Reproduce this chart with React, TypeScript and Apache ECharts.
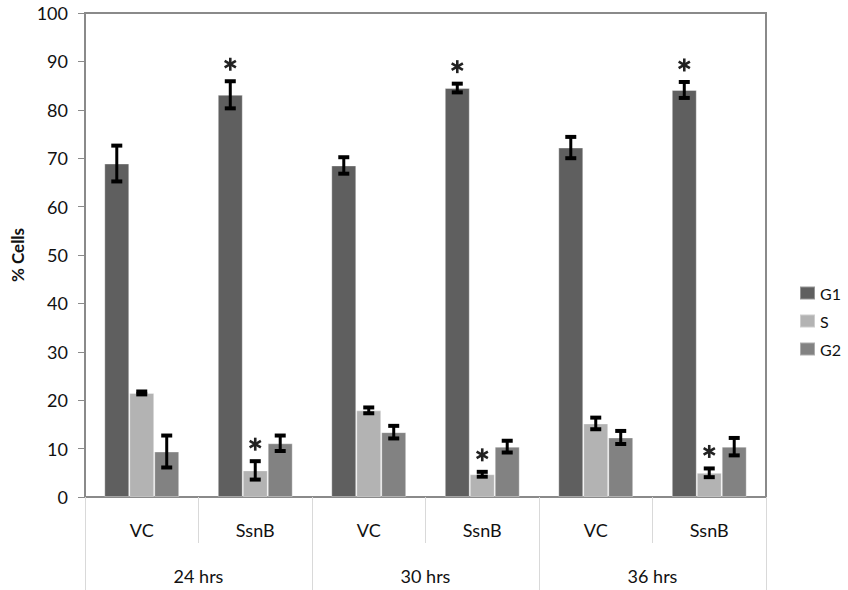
import React, { useEffect, useRef } from "react";
import * as echarts from "echarts";

const categories = ["VC", "SsnB", "VC", "SsnB", "VC", "SsnB"];
const timeGroups = ["24 hrs", "30 hrs", "36 hrs"];
const seriesNames = ["G1", "S", "G2"];
const g1Values = [68.9, 83.1, 68.5, 84.5, 72.2, 84.1];
const sValues = [21.5, 5.5, 17.9, 4.7, 15.2, 5.0];
const g2Values = [9.4, 11.1, 13.4, 10.4, 12.3, 10.4];
const g1Errors = [3.7, 2.8, 1.7, 0.9, 2.2, 1.65];
const sErrors = [0.3, 1.9, 0.6, 0.5, 1.2, 0.9];
const g2Errors = [3.3, 1.6, 1.3, 1.2, 1.35, 1.8];
const g1Stars = [false, true, false, true, false, true];
const sStars = [false, true, false, true, false, true];
const g2Stars = [false, false, false, false, false, false];
const yTicks = { min: 0, max: 100, interval: 10 };

const colors = ["#5f5f5f", "#b3b3b3", "#828282"];
const FONT = "Lato";
const CAT_GAP = 0.34;

export default function App() {
  const ref = useRef<HTMLDivElement>(null);
  useEffect(() => {
    if (!ref.current) return;
    const chart = echarts.init(ref.current, undefined, { renderer: "svg" });
    const values = [g1Values, sValues, g2Values];
    const errors = [g1Errors, sErrors, g2Errors];
    const stars = [g1Stars, sStars, g2Stars];
    const errData: any[] = [];
    for (let k = 0; k < 3; k++) {
      for (let i = 0; i < categories.length; i++) {
        errData.push([i, values[k][i], errors[k][i], k, stars[k][i] ? 1 : 0]);
      }
    }
    const option: any = {
      animation: false,
      grid: {
        left: 85,
        right: 82,
        top: 13,
        bottom: 93,
        show: true,
        borderColor: "#8a8a8a",
        borderWidth: 2,
      },
      legend: {
        orient: "vertical",
        left: 794,
        top: 280,
        itemWidth: 15,
        itemHeight: 13,
        itemGap: 12,
        data: seriesNames,
        textStyle: { fontFamily: FONT, fontSize: 16, color: "#111" },
        icon: "rect",
      },
      xAxis: [
        {
          type: "category",
          data: categories,
          position: "bottom",
          axisLine: { show: true, lineStyle: { color: "#8a8a8a", width: 2 } },
          axisTick: { show: true, length: 46, interval: 0, lineStyle: { color: "#d9d9d9" } },
          axisLabel: { margin: 24, interval: 0, fontFamily: FONT, fontSize: 18, color: "#111" },
        },
        {
          type: "category",
          data: timeGroups,
          position: "bottom",
          axisLine: { show: false },
          axisTick: { show: true, length: 93, interval: 0, lineStyle: { color: "#d9d9d9" } },
          axisLabel: { margin: 70, interval: 0, fontFamily: FONT, fontSize: 18, color: "#111" },
        },
      ],
      yAxis: {
        type: "value",
        min: yTicks.min,
        max: yTicks.max,
        interval: yTicks.interval,
        name: "% Cells",
        nameLocation: "middle",
        nameGap: 58,
        nameTextStyle: { fontFamily: FONT, fontSize: 17, fontWeight: "bold", color: "#111" },
        axisLine: { show: true, lineStyle: { color: "#8a8a8a", width: 2 } },
        axisTick: { show: true, length: 7, lineStyle: { color: "#8a8a8a" } },
        splitLine: { show: false },
        axisLabel: { margin: 17, fontFamily: FONT, fontSize: 18, color: "#111" },
      },
      series: [
        ...seriesNames.map((name, k) => ({
          name,
          type: "bar",
          data: values[k],
          barGap: "0%",
          barCategoryGap: CAT_GAP * 100 + "%",
          itemStyle: { color: colors[k], borderColor: "rgba(255,255,255,0.35)", borderWidth: 1 },
        })),
        {
          type: "custom",
          data: errData,
          z: 10,
          renderItem: (params: any, api: any) => {
            const ci = api.value(0);
            const v = api.value(1);
            const e = api.value(2);
            const k = api.value(3);
            const star = api.value(4);
            const band = api.size([1, 0])[0];
            const bw = (band * (1 - CAT_GAP)) / 3;
            const c = api.coord([ci, v]);
            const x = c[0] + (k - 1) * bw;
            const yTop = api.coord([ci, v + e])[1];
            const yBot = api.coord([ci, v - e])[1];
            const children: any[] = [
              { type: "rect", shape: { x: x - 1.5, y: yTop, width: 3, height: yBot - yTop }, style: { fill: "#000" } },
              { type: "rect", shape: { x: x - 5.5, y: yTop - 2, width: 11, height: 4 }, style: { fill: "#000" } },
              { type: "rect", shape: { x: x - 5.5, y: yBot - 2, width: 11, height: 4 }, style: { fill: "#000" } },
            ];
            if (star) {
              const cy = yTop - 17;
              const r = 6.5;
              [90, 30, -30].forEach((deg) => {
                const a = (deg * Math.PI) / 180;
                const dx = r * Math.cos(a);
                const dy = r * Math.sin(a);
                children.push({
                  type: "line",
                  shape: { x1: x - dx, y1: cy + dy, x2: x + dx, y2: cy - dy },
                  style: { stroke: "#222", lineWidth: 2.6 },
                });
              });
            }
            return { type: "group", children };
          },
        },
      ],
    };
    chart.setOption(option);
    return () => chart.dispose();
  }, []);
  return <div ref={ref} style={{ position: "absolute", left: 0, top: 0, width: 848, height: 590 }} />;
}
